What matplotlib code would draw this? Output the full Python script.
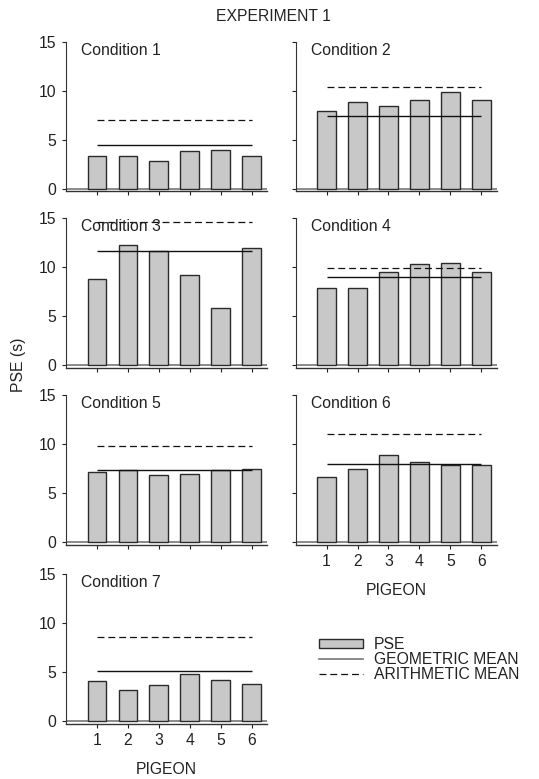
import numpy as np
import matplotlib
matplotlib.use('Agg')
from matplotlib import pyplot as plt
from matplotlib.patches import Patch
from matplotlib.lines import Line2D

plt.rcParams['font.family'] = ['Liberation Sans', 'DejaVu Sans']
plt.rcParams['lines.scale_dashes'] = False

pigeons = [1, 2, 3, 4, 5, 6]
conditions = ['Condition 1', 'Condition 2', 'Condition 3', 'Condition 4',
              'Condition 5', 'Condition 6', 'Condition 7']

# PSE per pigeon, one list per condition
pse_c1 = [3.38, 3.38, 2.86, 3.89, 3.92, 3.31]
pse_c2 = [7.88, 8.86, 8.39, 9.10, 9.82, 9.10]
pse_c3 = [8.82, 12.25, 11.64, 9.20, 5.80, 12.01]
pse_c4 = [7.91, 7.91, 9.50, 10.38, 10.42, 9.50]
pse_c5 = [7.11, 7.35, 6.81, 6.98, 7.35, 7.41]
pse_c6 = [6.67, 7.48, 8.86, 8.16, 7.89, 7.89]
pse_c7 = [4.05, 3.13, 3.71, 4.76, 4.15, 3.81]

geo_mean = [4.50, 7.43, 11.64, 9.06, 7.38, 7.95, 5.10]
arith_mean = [6.99, 10.40, 14.59, 9.91, 9.77, 11.02, 8.54]

pse = [pse_c1, pse_c2, pse_c3, pse_c4, pse_c5, pse_c6, pse_c7]

W, H = 539, 779
fig = plt.figure(figsize=(W / 100, H / 100), dpi=100)

col_x = [66 / W, 295.7 / W]
ax_w = 201 / W
row_top = [41.7, 218.3, 395.0, 574.0]   # pixel y of value 15
unit = 9.8                               # pixels per second
ymin = -0.28
ax_h = (15 - ymin) * unit / H

fs = 11.3
ink = '#222222'
bar_face = '#c8c8c8'
bar_edge = '#2b2b2b'

for i in range(7):
    r, c = i // 2, i % 2
    bottom = 1 - (row_top[r] + (15 - ymin) * unit) / H
    ax = fig.add_axes([col_x[c], bottom, ax_w, ax_h])
    ax.bar(pigeons, pse[i], width=0.6, color=bar_face, edgecolor=bar_edge,
           linewidth=1.0, zorder=2)
    ax.hlines(geo_mean[i], 1, 6, colors='#111111', linewidth=1.0, zorder=3)
    ax.hlines(arith_mean[i], 1, 6, colors='#111111', linewidth=0.9,
              linestyles=(0, (5.0, 2.8)), zorder=3)
    ax.axhline(0, color='#777777', linewidth=1.2, zorder=1)
    ax.set_xlim(0, 6.5)
    ax.set_ylim(ymin, 15)
    ax.spines['top'].set_visible(False)
    ax.spines['right'].set_visible(False)
    ax.spines['left'].set_bounds(ymin, 15)
    ax.spines['left'].set_linewidth(0.8)
    ax.spines['bottom'].set_linewidth(1.0)
    ax.spines['left'].set_color('#333333')
    ax.spines['bottom'].set_color('#333333')
    ax.set_yticks([0, 5, 10, 15])
    ax.set_xticks(pigeons)
    ax.tick_params(direction='out', length=3, width=0.8, labelsize=fs,
                   colors=ink, pad=4)
    if c == 1:
        ax.set_yticklabels([])
    # x tick labels only under the bottom panel of each column
    if i in (5, 6):
        ax.set_xticklabels([str(p) for p in pigeons])
        ax.set_xlabel('PIGEON', fontsize=fs, color=ink, labelpad=10)
    else:
        ax.set_xticklabels([])
    ax.text(0.5, 14.9, conditions[i], fontsize=fs, color=ink,
            ha='left', va='top')

fig.text(273 / W, 1 - 16.7 / H, 'EXPERIMENT 1', fontsize=fs,
         color=ink, ha='center', va='center')
fig.text(18 / W, 1 - 365 / H, 'PSE (s)', fontsize=fs, color=ink,
         rotation=90, ha='center', va='center')

handles = [Patch(facecolor=bar_face, edgecolor=bar_edge, linewidth=1.0),
           Line2D([], [], color='#777777', linewidth=1.2),
           Line2D([], [], color='#111111', linewidth=0.9,
                  linestyle=(0, (5.0, 2.8)))]
fig.legend(handles, ['PSE', 'GEOMETRIC MEAN', 'ARITHMETIC MEAN'],
           loc='upper left', bbox_to_anchor=(311 / W, 1 - 629 / H),
           frameon=False, fontsize=fs, handlelength=2.8, handleheight=0.5,
           handletextpad=0.7, labelspacing=0.0, borderpad=0,
           labelcolor=ink)

fig.savefig('out.png', dpi=100)
